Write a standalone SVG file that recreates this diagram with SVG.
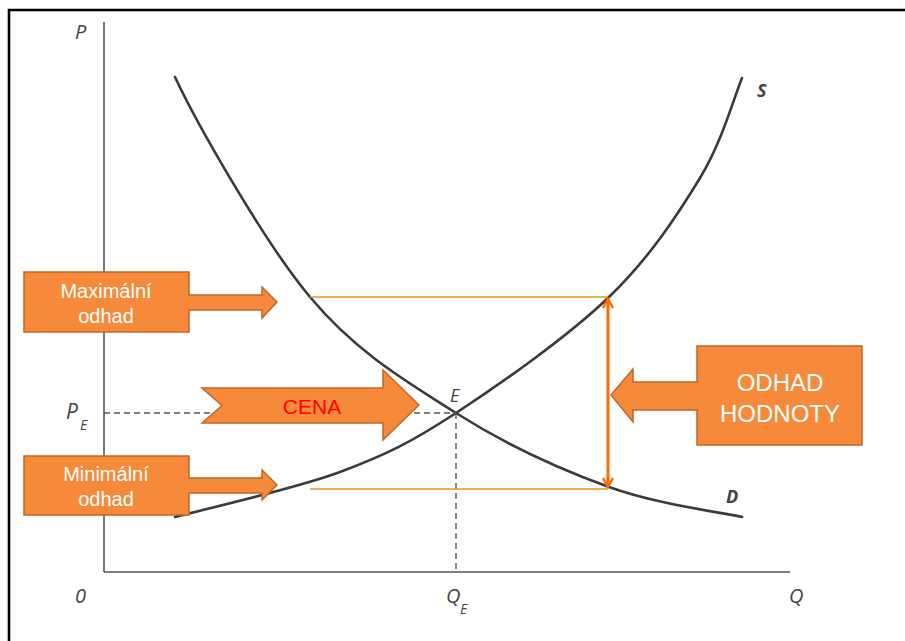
<svg xmlns="http://www.w3.org/2000/svg" width="905" height="641" viewBox="0 0 905 641">
<style>
.axis{stroke:#555;stroke-width:1.6;fill:none}
.dash{stroke:#555;stroke-width:1.4;stroke-dasharray:6 4;fill:none}
.curve{stroke:#3a3a3a;stroke-width:2.6;fill:none;stroke-linecap:round}
.guide{stroke:#E8922E;stroke-width:1.3;fill:none}
.shape{fill:#F7893A;stroke:#C0662A;stroke-width:1.5}
.lbl{font-family:"Open Sans","Liberation Sans",sans-serif;font-style:italic;fill:#444}
.btxt{font-family:"Liberation Sans",Arial,sans-serif;fill:#fff;text-anchor:middle}
</style>
<defs>
<marker id="vhead" viewBox="0 0 12 12" refX="10" refY="6" markerWidth="12" markerHeight="12" markerUnits="userSpaceOnUse" orient="auto-start-reverse">
<path d="M1,1 L10,6 L1,11" fill="none" stroke="#FF6A00" stroke-width="2.4"/>
</marker>
</defs>
<rect width="905" height="641" fill="#fff"/>
<path d="M9,641 V10 H905" fill="none" stroke="#000" stroke-width="2.6"/>

<g id="axes">
<line class="axis" x1="104" y1="22" x2="104" y2="572"/>
<line class="axis" x1="104" y1="572" x2="790" y2="572"/>
<text class="lbl" x="75" y="39" font-size="20">P</text>
<text class="lbl" x="75" y="603" font-size="20">0</text>
<text class="lbl" x="789" y="603" font-size="20">Q</text>
<text class="lbl" x="446" y="603" font-size="20">Q</text>
<text class="lbl" x="460" y="614" font-size="14">E</text>
<text class="lbl" x="66" y="419" font-size="21">P</text>
<text class="lbl" x="80" y="430" font-size="14">E</text>
<text class="lbl" x="450" y="402" font-size="18">E</text>
</g>

<g id="curves">
<path id="curve-D" class="curve" d="M175,77 C195,120 263.2,241 310,297 C356.8,353 406.2,381.3 456,413 C505.8,444.7 561.3,469.7 609,487 C656.7,504.3 719.8,512 742,517"/>
<path id="curve-S" class="curve" d="M175,517 C202.5,509.5 293.2,489.3 340,472 C386.8,454.7 411.2,442.2 456,413 C500.8,383.8 568.3,336.2 609,297 C649.7,257.8 677.8,214.5 700,178 C722.2,141.5 735,94.7 742,78"/>
<text x="757" y="97" font-family="'Open Sans','Liberation Sans',sans-serif" font-style="italic" font-weight="bold" font-size="18" fill="#444">S</text>
<text x="726" y="503" font-family="'Open Sans','Liberation Sans',sans-serif" font-style="italic" font-weight="bold" font-size="18" fill="#444">D</text>
</g>

<g id="connectors">
<line class="dash" x1="104" y1="413" x2="456" y2="413"/>
<line class="dash" x1="456" y1="413" x2="456" y2="572"/>
<line class="guide" x1="310" y1="297" x2="608" y2="297"/>
<line class="guide" x1="310" y1="489" x2="608" y2="489"/>
<line x1="608" y1="299" x2="608" y2="487" stroke="#FF6A00" stroke-width="3" marker-start="url(#vhead)" marker-end="url(#vhead)"/>
</g>

<g id="max-odhad">
<path class="shape" d="M24,272 H189 V295 H262 V287 L277,302 L262,318 V310 H189 V332 H24 Z"/>
<text class="btxt" x="106" y="298" font-size="20">Maximální</text>
<text class="btxt" x="106" y="323" font-size="20">odhad</text>
</g>

<g id="min-odhad">
<path class="shape" d="M24,456 H189 V478 H262 V470 L277,485 L262,500 V493 H189 V515 H24 Z"/>
<text class="btxt" x="106" y="481" font-size="20">Minimální</text>
<text class="btxt" x="106" y="506" font-size="20">odhad</text>
</g>

<g id="cena">
<path class="shape" d="M202,388 H383 V370 L419,405 L383,440 V423 H202 L222,405.5 Z"/>
<text x="312" y="414" font-family="'Liberation Sans',Arial,sans-serif" font-size="21" fill="#FF0000" text-anchor="middle">CENA</text>
</g>

<g id="odhad-hodnoty">
<path class="shape" d="M697,346 H862 V445 H697 V410 H633 V422 L611,395 L633,369 V382 H697 Z"/>
<text class="btxt" x="780" y="391" font-size="24">ODHAD</text>
<text class="btxt" x="780" y="422" font-size="24">HODNOTY</text>
</g>
</svg>
